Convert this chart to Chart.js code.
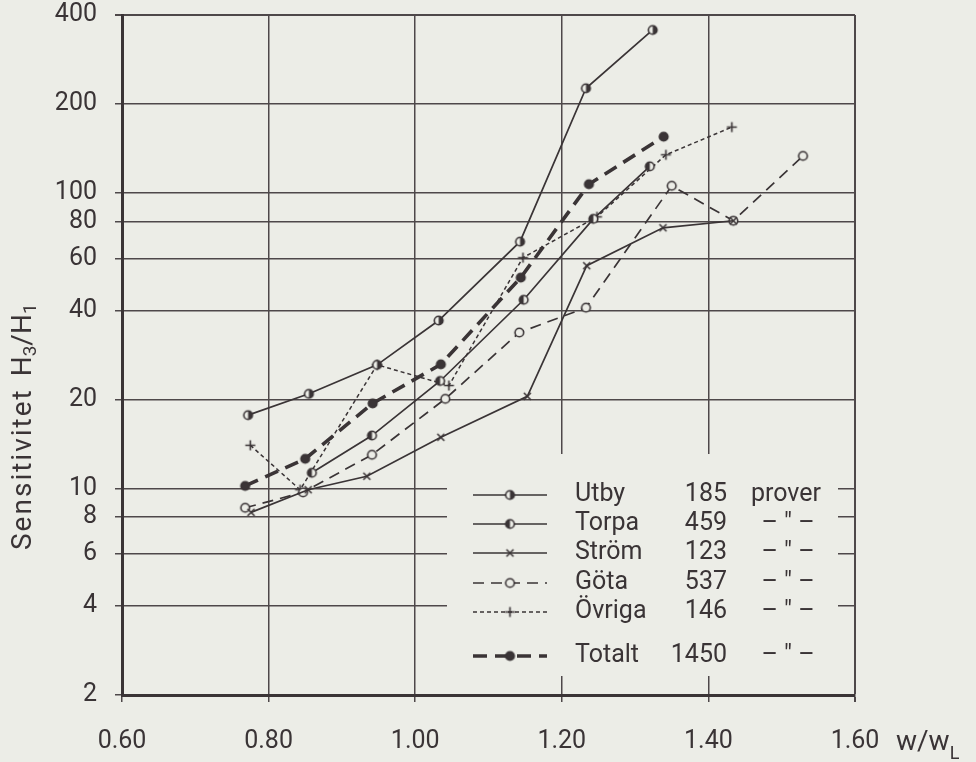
<!DOCTYPE html>
<html>
<head>
<meta charset="utf-8">
<script src="https://cdn.jsdelivr.net/npm/chart.js@4/dist/chart.umd.min.js"></script>
<style>
  html, body { margin: 0; padding: 0; background: #ecede7; }
  canvas { display: block; }
</style>
</head>
<body>
<canvas id="sensChart" width="976" height="762"></canvas>
<script>
// Series (w/wL against H3/H1, log scale)
const seriesNames = ['Utby', 'Torpa', 'Ström', 'Göta', 'Övriga', 'Totalt'];
const sampleCounts = [185, 459, 123, 537, 146, 1450];

const utbyX = [0.772, 0.855, 0.948, 1.032, 1.143, 1.233, 1.324];
const utbyY = [17.7, 20.9, 26.2, 37.0, 68.4, 226, 356];

const torpaX = [0.859, 0.941, 1.034, 1.148, 1.243, 1.320];
const torpaY = [11.3, 15.1, 23.1, 43.5, 81.7, 123];

const stromX = [0.776, 0.854, 0.934, 1.035, 1.153, 1.234, 1.338, 1.434];
const stromY = [8.3, 9.9, 11.0, 14.9, 20.5, 56.7, 76.2, 80.5];

const gotaX = [0.768, 0.847, 0.941, 1.041, 1.142, 1.233, 1.350, 1.434, 1.529];
const gotaY = [8.6, 9.7, 13.0, 20.1, 33.7, 40.9, 105.7, 80.5, 133.4];

const ovrigaX = [0.775, 0.843, 0.948, 1.046, 1.147, 1.248, 1.342, 1.432];
const ovrigaY = [14.0, 9.9, 26.2, 22.3, 60.4, 83.0, 134.6, 167];

const totaltX = [0.768, 0.850, 0.942, 1.035, 1.144, 1.237, 1.339];
const totaltY = [10.2, 12.6, 19.4, 26.3, 51.7, 107, 155];

const xTickValues = [0.6, 0.8, 1.0, 1.2, 1.4, 1.6];
const yTickValues = [2, 4, 6, 8, 10, 20, 40, 60, 80, 100, 200, 400];

const INK = '#3a3436';
const PAPER = '#ecede7';
const FONT = 'Roboto, "DejaVu Sans", sans-serif';

// small canvases used as point markers (chart and legend share them)
function marker(kind) {
    const c = document.createElement('canvas');
    c.width = 13; c.height = 13;
    const g = c.getContext('2d');
    g.strokeStyle = INK; g.fillStyle = INK; g.lineWidth = 1.6;
    const m = 6.5;
    if (kind === 'halfR' || kind === 'halfL' || kind === 'open' || kind === 'dot') {
        g.beginPath(); g.arc(m, m, 4.3, 0, Math.PI * 2);
        g.fillStyle = kind === 'dot' ? INK : PAPER; g.fill();
        if (kind === 'halfR' || kind === 'halfL') {
            g.fillStyle = INK;
            g.beginPath();
            if (kind === 'halfR') g.arc(m, m, 4.3, -Math.PI / 2, Math.PI / 2);
            else g.arc(m, m, 4.3, Math.PI / 2, Math.PI * 1.5);
            g.closePath(); g.fill();
        }
        g.beginPath(); g.arc(m, m, 4.3, 0, Math.PI * 2); g.stroke();
    } else if (kind === 'x') {
        g.beginPath();
        g.moveTo(m - 3.5, m - 3.5); g.lineTo(m + 3.5, m + 3.5);
        g.moveTo(m + 3.5, m - 3.5); g.lineTo(m - 3.5, m + 3.5);
        g.stroke();
    } else if (kind === 'plus') {
        g.beginPath();
        g.moveTo(m - 5, m); g.lineTo(m + 5, m);
        g.moveTo(m, m - 5); g.lineTo(m, m + 5);
        g.stroke();
    }
    return c;
}

function pts(xs, ys) {
    return xs.map((x, i) => ({ x: x, y: ys[i] }));
}

const seriesX = [utbyX, torpaX, stromX, gotaX, ovrigaX, totaltX];
const seriesY = [utbyY, torpaY, stromY, gotaY, ovrigaY, totaltY];
const markerKinds = ['halfR', 'halfL', 'x', 'open', 'plus', 'dot'];
const lineWidths = [1.7, 1.7, 1.7, 1.7, 1.5, 3.6];
const lineDashes = [[], [], [], [11, 7], [4, 3], [14, 8]];

const datasets = seriesNames.map((name, i) => ({
    label: name,
    data: pts(seriesX[i], seriesY[i]),
    borderColor: INK,
    borderWidth: lineWidths[i],
    borderDash: lineDashes[i],
    pointStyle: marker(markerKinds[i]),
    pointRadius: 5,
    fill: false,
    tension: 0
}));

// paper background
const paperPlugin = {
    id: 'paper',
    beforeDraw(chart) {
        const ctx = chart.ctx;
        ctx.save();
        ctx.fillStyle = PAPER;
        ctx.fillRect(0, 0, chart.width, chart.height);
        ctx.restore();
    }
};

// boxed-out legend table inside the plot, like the original figure
const tablePlugin = {
    id: 'table',
    beforeDatasetsDraw(chart) {
        const ctx = chart.ctx;
        ctx.save();
        ctx.fillStyle = PAPER;
        ctx.fillRect(447, 454, 391, 222);

        const rowsY = [495, 524, 553, 583, 612, 656];
        ctx.font = '25px ' + FONT;
        ctx.textBaseline = 'middle';
        chart.data.datasets.forEach((ds, i) => {
            const y = rowsY[i];
            ctx.strokeStyle = INK;
            ctx.lineWidth = ds.borderWidth;
            ctx.setLineDash(ds.borderDash);
            ctx.beginPath();
            ctx.moveTo(473, y); ctx.lineTo(547, y);
            ctx.stroke();
            ctx.setLineDash([]);
            const img = ds.pointStyle;
            ctx.drawImage(img, 510 - img.width / 2, y - img.height / 2);

            ctx.fillStyle = INK;
            ctx.textAlign = 'left';
            ctx.fillText(seriesNames[i], 575, y);
            ctx.textAlign = 'right';
            ctx.fillText(String(sampleCounts[i]), 727, y);
            if (i === 0) {
                ctx.textAlign = 'left';
                ctx.fillText('prover', 751, y);
            } else {
                ctx.textAlign = 'center';
                ctx.fillText('– " –', 788, y);
            }
        });
        ctx.restore();
    }
};

// axis titles with subscripts
const titlesPlugin = {
    id: 'titles',
    afterDraw(chart) {
        const ctx = chart.ctx;
        ctx.save();
        ctx.fillStyle = INK;
        ctx.textBaseline = 'middle';
        ctx.textAlign = 'left';

        // y title, rotated
        ctx.translate(24, 550);
        ctx.rotate(-Math.PI / 2);
        const big = '28px ' + FONT, small = '19px ' + FONT;
        let x = 0;
        const put = (t, f, dy) => {
            ctx.font = f;
            ctx.fillText(t, x, dy);
            x += ctx.measureText(t).width;
        };
        ctx.letterSpacing = '2px';
        put('Sensitivitet', big, 0);
        ctx.letterSpacing = '0px';
        x += 12;
        put('H', big, 0);
        put('3', small, 7);
        put('/', big, 0);
        put('H', big, 0);
        put('1', small, 7);
        ctx.setTransform(1, 0, 0, 1, 0, 0);

        // x title
        x = 896;
        const put2 = (t, f, yy) => {
            ctx.font = f;
            ctx.fillText(t, x, yy);
            x += ctx.measureText(t).width;
        };
        put2('w/w', '28px ' + FONT, 743);
        put2('L', '18px ' + FONT, 754);
        ctx.restore();
    }
};

const gridColor = '#4e484a';

new Chart(document.getElementById('sensChart'), {
    type: 'line',
    data: { datasets: datasets },
    plugins: [paperPlugin, tablePlugin, titlesPlugin],
    options: {
        responsive: false,
        animation: false,
        layout: { padding: { left: 0, top: 0, right: 121, bottom: 0 } },
        plugins: {
            legend: { display: false },
            title: { display: false },
            tooltip: { enabled: false }
        },
        scales: {
            x: {
                type: 'linear',
                min: 0.6,
                max: 1.6,
                afterBuildTicks: axis => { axis.ticks = xTickValues.map(v => ({ value: v })); },
                afterFit: axis => { axis.height = 67; },
                ticks: {
                    color: INK,
                    font: { family: FONT, size: 25 },
                    padding: 25,
                    maxRotation: 0,
                    callback: v => Number(v).toFixed(2)
                },
                grid: {
                    color: gridColor,
                    lineWidth: c => (c.tick && c.tick.value === 1.6 ? 2 : 1.5),
                    tickLength: 7,
                    tickColor: gridColor
                },
                border: { display: true, color: INK, width: 3 }
            },
            y: {
                type: 'logarithmic',
                min: 2,
                max: 400,
                afterBuildTicks: axis => { axis.ticks = yTickValues.map(v => ({ value: v })); },
                afterFit: axis => {
                    axis.width = 122;
                    axis.paddingTop = 15;
                    axis.paddingBottom = 0;
                },
                ticks: {
                    color: INK,
                    font: { family: FONT, size: 25 },
                    padding: 18,
                    callback: v => String(v)
                },
                grid: {
                    color: gridColor,
                    lineWidth: c => (c.tick && c.tick.value === 400 ? 2 : 1.5),
                    tickLength: 7,
                    tickColor: gridColor
                },
                border: { display: true, color: INK, width: 3 }
            }
        }
    }
});
</script>
</body>
</html>
